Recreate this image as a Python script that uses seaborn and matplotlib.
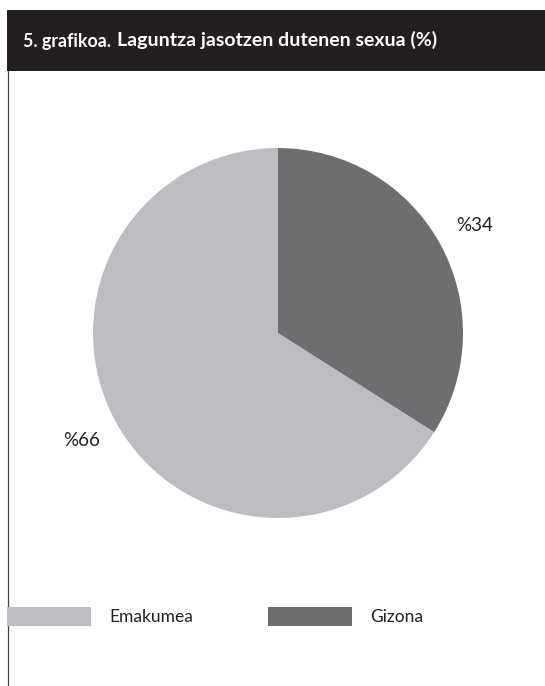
import matplotlib
matplotlib.use("Agg")
import matplotlib.pyplot as plt
import seaborn as sns
from matplotlib.patches import Rectangle, Patch
from matplotlib.lines import Line2D

sns.set_theme(style="white")
plt.rcParams['font.family'] = ['Lato', 'DejaVu Sans']

# Data
categories = ["Emakumea", "Gizona"]
values = [66, 34]
value_labels = ["%66", "%34"]
colors = ["#bcbdc0", "#6d6e70"]
title_prefix = "5. grafikoa."
title_main = "Laguntza jasotzen dutenen sexua (%)"

W, H = 545, 686
fig = plt.figure(figsize=(W / 100, H / 100), dpi=100)
fig.patch.set_facecolor("white")

def fx(px):
    return px / W

def fy(py):
    return 1 - py / H

# Header bar
fig.patches.append(Rectangle((fx(7), fy(71)), 1 - fx(7), (71 - 10) / H,
                             transform=fig.transFigure, facecolor="#231f20",
                             edgecolor="none", zorder=0))
# Left border line
fig.lines.append(Line2D([fx(7.5), fx(7.5)], [0, fy(71)], transform=fig.transFigure,
                        color="#444444", linewidth=0.9))

# Title
t1 = fig.text(fx(23), fy(41), title_prefix, color="white", fontsize=12.8,
              fontweight="bold", va="center", ha="left")
fig.canvas.draw()
bb = t1.get_window_extent()
fig.text(bb.x1 / W + fx(6), fy(40), title_main, color="white", fontsize=14,
         fontweight="bold", va="center", ha="left")

# Pie
cx, cy, r = 278, 333, 185
half = 1.25 * r
ax = fig.add_axes([fx(cx - half), (H - cy - half) / H, 2 * half / W, 2 * half / H])
wedges, texts = ax.pie(values, colors=colors, startangle=90, counterclock=True,
                       labels=value_labels, labeldistance=1.21,
                       wedgeprops=dict(linewidth=0),
                       textprops=dict(fontsize=13.5, color="#231f20"))
for t in texts:
    t.set_horizontalalignment("center")
ax.set_xlim(-1.25, 1.25)
ax.set_ylim(-1.25, 1.25)
ax.set_aspect("equal")
ax.axis("off")

# Legend
handles = [Patch(facecolor=c, edgecolor="none") for c in colors]
fig.legend(handles, categories, loc="center left",
           bbox_to_anchor=(fx(7), fy(616.5)), ncol=2, frameon=False,
           fontsize=12.5, handlelength=4.85, handleheight=1.35,
           handletextpad=1.05, columnspacing=4.3, borderpad=0, borderaxespad=0,
           labelcolor="#231f20")

fig.savefig("out.png", dpi=100)
